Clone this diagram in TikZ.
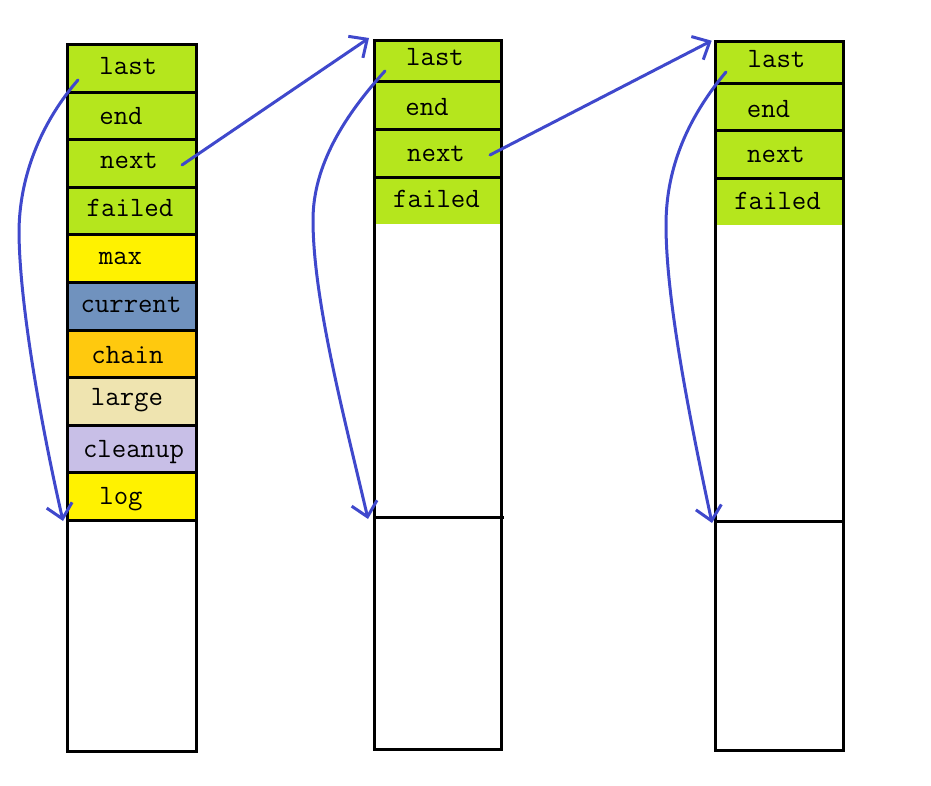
\documentclass[tikz,border=0pt]{standalone}
\usetikzlibrary{arrows.meta}
\definecolor{pLime}{RGB}{181,230,29}
\definecolor{pYellow}{RGB}{255,242,0}
\definecolor{pSteel}{RGB}{112,146,190}
\definecolor{pGold}{RGB}{255,201,14}
\definecolor{pBeige}{RGB}{239,228,176}
\definecolor{pLav}{RGB}{200,191,231}
\definecolor{pBlue}{RGB}{63,72,204}
\begin{document}
\begin{tikzpicture}[x=1pt,y=-1pt,
  cellL/.style={draw=black, line width=3pt, inner sep=0pt, outer sep=0pt,
    minimum width=129pt, minimum height=47.5pt, anchor=north west},
  fillcell/.style={fill=pLime, inner sep=0pt, outer sep=0pt, anchor=north west},
  colbox/.style={draw=black, line width=3pt, inner sep=0pt, outer sep=0pt, anchor=north west},
  border/.style={draw=black, line width=3pt},
  lbl/.style={anchor=base, inner sep=0pt, font=\fontsize{28}{28}\selectfont\ttfamily},
  arr/.style={draw=pBlue, line width=3pt, line cap=round, line join=round,
    -{Straight Barb[length=14pt,width=26pt]}}
]
\useasboundingbox (0,0) rectangle (931,786);

% ---------- left column ----------
\node[cellL, fill=pLime]   (L1)  at (67,45)    {};
\node[cellL, fill=pLime]   (L2)  at (67,92.5)  {};
\node[cellL, fill=pLime]   (L3)  at (67,140)   {};
\node[cellL, fill=pLime]   (L4)  at (67,187.5) {};
\node[cellL, fill=pYellow] (L5)  at (67,235)   {};
\node[cellL, fill=pSteel]  (L6)  at (67,282.5) {};
\node[cellL, fill=pGold]   (L7)  at (67,330)   {};
\node[cellL, fill=pBeige]  (L8)  at (67,377.5) {};
\node[cellL, fill=pLav]    (L9)  at (67,425)   {};
\node[cellL, fill=pYellow] (L10) at (67,472.5) {};
\node[cellL, minimum height=231pt] (L11) at (67,520) {};

\node[lbl] (tL1)  at (128.3,75)  {last};
\node[lbl] (tL2)  at (121,125)   {end};
\node[lbl] (tL3)  at (129,169)   {next};
\node[lbl] (tL4)  at (130,217)   {failed};
\node[lbl] (tL5)  at (120.5,265) {max};
\node[lbl] (tL6)  at (131,312)   {current};
\node[lbl] (tL7)  at (127.5,363) {chain};
\node[lbl] (tL8)  at (127,405)   {large};
\node[lbl] (tL9)  at (133.5,457) {cleanup};
\node[lbl] (tL10) at (121,504)   {log};

% ---------- middle column ----------
\node[fillcell, minimum width=127pt, minimum height=41.5pt] (M1) at (374.5,40.5) {};
\node[fillcell, minimum width=127pt, minimum height=48pt]   (M2) at (374.5,82)   {};
\node[fillcell, minimum width=127pt, minimum height=47.7pt] (M3) at (374.5,130)  {};
\node[fillcell, minimum width=127pt, minimum height=46.3pt] (M4) at (374.5,177.7) {};
\draw[border] (M1.south west) -- (M1.south east);
\draw[border] (M2.south west) -- (M2.south east);
\draw[border] (M3.south west) -- (M3.south east);
\node[colbox, minimum width=127pt, minimum height=708.5pt] (M) at (374.5,40.5) {};
\draw[border] (374.5,517) -- (504,517);

\node[lbl] (tM1) at (435,66)    {last};
\node[lbl] (tM2) at (427,116)   {end};
\node[lbl] (tM3) at (436,161.7) {next};
\node[lbl] (tM4) at (436.5,208) {failed};

% ---------- right column ----------
\node[fillcell, minimum width=128pt, minimum height=41.8pt] (R1) at (715,41.5) {};
\node[fillcell, minimum width=128pt, minimum height=47.7pt] (R2) at (715,83.3) {};
\node[fillcell, minimum width=128pt, minimum height=48pt]   (R3) at (715,131)  {};
\node[fillcell, minimum width=128pt, minimum height=46pt]   (R4) at (715,179)  {};
\draw[border] (R1.south west) -- (R1.south east);
\draw[border] (R2.south west) -- (R2.south east);
\draw[border] (R3.south west) -- (R3.south east);
\node[colbox, minimum width=128pt, minimum height=708.5pt] (R) at (715,41.5) {};
\draw[border] (715,521) -- (843,521);

\node[lbl] (tR1) at (776.5,67.3)  {last};
\node[lbl] (tR2) at (768.5,117.3) {end};
\node[lbl] (tR3) at (776,162.7)   {next};
\node[lbl] (tR4) at (777.5,210)   {failed};

% ---------- arrows ----------
\coordinate (a1s) at (78,80);    \coordinate (a1e) at (63,521);
\coordinate (a2s) at (182,165);  \coordinate (a2e) at (369,38);
\coordinate (a3s) at (385,71);   \coordinate (a3e) at (368,519);
\coordinate (a4s) at (490,155);  \coordinate (a4e) at (711.7,40.7);
\coordinate (a5s) at (726,72);   \coordinate (a5e) at (712,523);

\draw[arr] (a1s) .. controls (45,118) and (20,170) .. (19,230)
                 .. controls (19,300) and (40,420) .. (a1e);
\draw[arr] (a2s) -- (a2e);
\draw[arr] (a3s) .. controls (345,115) and (313,165) .. (313,220)
                 .. controls (313,300) and (345,420) .. (a3e);
\draw[arr] (a4s) -- (a4e);
\draw[arr] (a5s) .. controls (690,115) and (666,165) .. (666,225)
                 .. controls (666,300) and (690,420) .. (a5e);
\end{tikzpicture}
\end{document}
